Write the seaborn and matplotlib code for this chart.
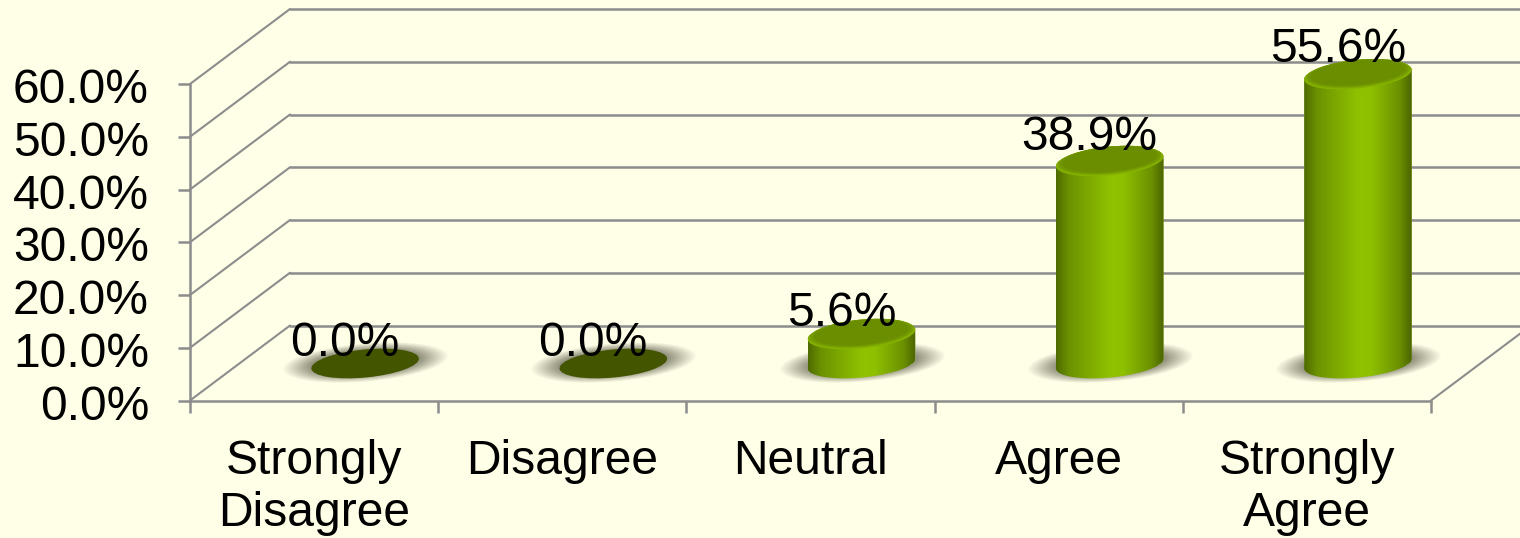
import numpy as np
import matplotlib
matplotlib.use("Agg")
import matplotlib.pyplot as plt
import seaborn as sns
from matplotlib.colors import LinearSegmentedColormap
from matplotlib.patches import Ellipse, Polygon
from matplotlib.transforms import IdentityTransform, ScaledTranslation

categories = ["Strongly\nDisagree", "Disagree", "Neutral", "Agree", "Strongly\nAgree"]
values = [0.0, 0.0, 5.6, 38.9, 55.6]
value_labels = ["0.0%", "0.0%", "5.6%", "38.9%", "55.6%"]
y_ticks = [0, 10, 20, 30, 40, 50, 60]
y_labels = ["0.0%", "10.0%", "20.0%", "30.0%", "40.0%", "50.0%", "60.0%"]

BG = "#FFFFE8"
GRID = "#8C8C8C"
W, H = 1520, 538
FS = 34.6

sns.set_style("white")
plt.rcParams['font.family'] = ['Liberation Sans', 'DejaVu Sans']

fig = plt.figure(figsize=(W / 100, H / 100), dpi=100, facecolor=BG)
ax = fig.add_axes([190 / W, (H - 400.5) / H, 1241 / W, 316.5 / H])
ax.patch.set_alpha(0)

sns.barplot(x=categories, y=values, color="#7FA800", width=0.435, saturation=1, ax=ax, zorder=4)
ax.set_xlim(-0.5, 4.5)
ax.set_ylim(0, 60)

# the walls of the fake 3d box, depth is a fixed shift in pixels
depth = ScaledTranslation(100 / 100, 75 / 100, fig.dpi_scale_trans)
wall = ax.transData + depth
for t in y_ticks:
    ax.plot([-0.5, 4.5], [t, t], color=GRID, lw=1.8, transform=wall, clip_on=False, zorder=1)
    p0 = ax.transData.transform((-0.5, t))
    ax.plot([p0[0], p0[0] + 100], [p0[1], p0[1] + 75], color=GRID, lw=1.5,
            transform=IdentityTransform(), clip_on=False, zorder=1)
p0 = ax.transData.transform((4.5, 0))
ax.plot([p0[0], p0[0] + 100], [p0[1], p0[1] + 75], color=GRID, lw=1.5,
        transform=IdentityTransform(), clip_on=False, zorder=1)

for s in ["top", "right"]:
    ax.spines[s].set_visible(False)
for s in ["left", "bottom"]:
    ax.spines[s].set_color(GRID)
    ax.spines[s].set_linewidth(1.8)

ax.set_yticks(y_ticks)
ax.set_yticklabels(y_labels)
ax.set_xticks(range(5))
ax.set_xticklabels(categories, linespacing=1.22)
ax.set_xticks(np.arange(-0.5, 5), minor=True)
ax.tick_params(axis='y', left=True, length=8.5, width=1.8, color=GRID, labelsize=FS, pad=21, labelcolor='black')
ax.tick_params(axis='x', which='major', bottom=False, labelsize=FS, pad=24, labelcolor='black')
ax.tick_params(axis='x', which='minor', bottom=True, length=8.5, width=1.8, color=GRID)
for lab in ax.get_yticklabels():
    lab.set_transform(lab.get_transform() + ScaledTranslation(0, -1.5 / 100, fig.dpi_scale_trans))

bar_cmap = LinearSegmentedColormap.from_list("bar", [
    (0.0, "#4F6A00"), (0.12, "#6C9200"), (0.5, "#90C200"),
    (0.62, "#8FC000"), (0.88, "#6C9200"), (1.0, "#4C6400")])
A, B, TILT = 54, 14, np.radians(5.5)
DX, DY = 51, 37
SQUEEZE = 0.985


def arc(cx, cy, t0, t1):
    t = np.linspace(t0, t1, 80)
    x = cx + A * np.cos(t) * np.cos(TILT) - B * np.sin(t) * np.sin(TILT)
    y = cy + A * np.cos(t) * np.sin(TILT) + B * np.sin(t) * np.cos(TILT)
    return np.column_stack([x, y])


def shadow(cx, cy):
    x0, x1, y0, y1 = cx - 110, cx + 110, cy - 32, cy + 32
    gx, gy = np.meshgrid(np.arange(x0, x1), np.arange(y0, y1))
    v = (gy - cy) / 18
    u = ((gx - cx) - 1.3 * (gy - cy)) / 69
    r = np.sqrt(u ** 2 + v ** 2)
    img = np.zeros(gx.shape + (4,))
    img[..., :3] = np.array([0.30, 0.30, 0.22])
    img[..., 3] = np.clip((1.14 - r) / 0.42, 0, 1) * 0.64
    ax.imshow(img, extent=(x0, x1, y0, y1), origin='lower', aspect='auto',
              transform=IdentityTransform(), zorder=2, clip_on=False)


for bar, v, lab in zip(ax.patches, values, value_labels):
    xc = bar.get_x() + bar.get_width() / 2
    cx, base = ax.transData.transform((xc, 0)) + np.array([DX, DY])
    top = base + (ax.transData.transform((xc, v))[1] + DY - base) * SQUEEZE
    shadow(cx, base)
    bar.set_transform(ax.transData + ScaledTranslation(DX / 100, DY / 100, fig.dpi_scale_trans))
    if v == 0:
        bar.set_visible(False)
        ax.add_patch(Ellipse((cx, base), 2 * A, 2 * B, angle=np.degrees(TILT), color="#445500",
                             lw=0, transform=IdentityTransform(), zorder=5, clip_on=False))
    else:
        outline = np.vstack([arc(cx, base, np.pi, 2 * np.pi), arc(cx, top, 0, np.pi)])
        shape = Polygon(outline, closed=True, transform=IdentityTransform())
        bar.set_clip_path(shape)
        bar.set_clip_box(fig.bbox)
        im = ax.imshow(np.linspace(0, 1, 256)[None, :], cmap=bar_cmap, aspect='auto',
                       extent=(cx - A, cx + A, base - 20, top + 20),
                       transform=IdentityTransform(), zorder=5)
        im.set_clip_path(shape)
        im.set_clip_box(fig.bbox)
        # top face: bright rim along the front, then a darker disc
        faces = [("#86B400", 1.0, 0), ("#7FAA00", 0.985, 0.8), ("#779E00", 0.96, 1.4),
                 ("#709500", 0.93, 1.8), ("#6B8E00", 0.88, 2.0)]
        for colour, sh, dy in faces:
            ax.add_patch(Ellipse((cx, top + dy), 2 * A * sh, 2 * B * sh, angle=np.degrees(TILT),
                                 color=colour, lw=0, transform=IdentityTransform(), zorder=6, clip_on=False))
    ax.annotate(lab, xy=(xc, v), xycoords='data', xytext=(DX - 20, 45), textcoords='offset pixels',
                ha='center', va='baseline', fontsize=FS, color='black', zorder=8, annotation_clip=False)

ax.set_xlim(-0.5, 4.5)
ax.set_ylim(0, 60)

fig.savefig("out.png", dpi=100, facecolor=BG)
